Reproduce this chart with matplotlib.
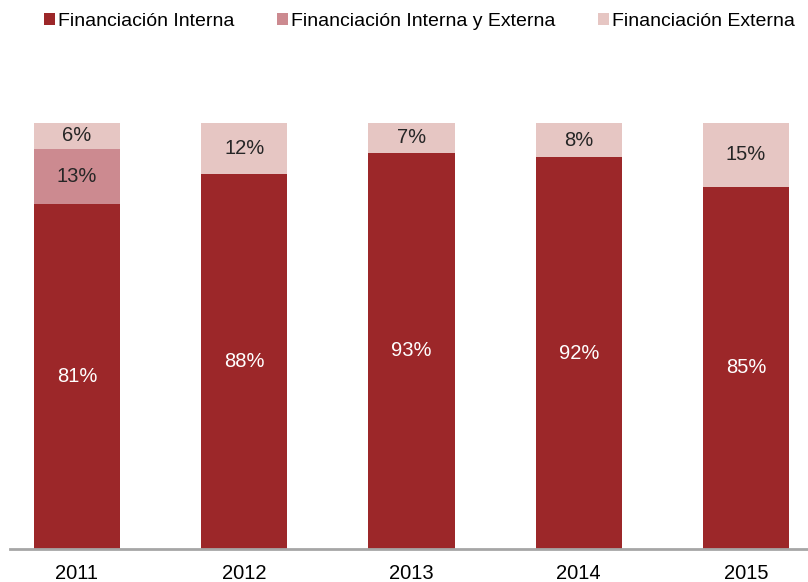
import numpy as np
import matplotlib.pyplot as plt
from matplotlib.patches import Patch

plt.rcParams['font.family'] = ['Liberation Sans', 'DejaVu Sans']

years = ['2011', '2012', '2013', '2014', '2015']
interna = [81, 88, 93, 92, 85]
mixta = [13, 0, 0, 0, 0]
externa = [6, 12, 7, 8, 15]
names = ['Financiación Interna', 'Financiación Interna y Externa', 'Financiación Externa']
colors = ['#9c2729', '#cc8a90', '#e6c6c3']
text_colors = ['white', '#262626', '#262626']

fig = plt.figure(figsize=(8.08, 5.82), dpi=100)
ax = fig.add_axes([10/808, 33/582, 798/808, 426/582])

x = np.arange(len(years))
w = 0.515
bottom = np.zeros(len(years))
for vals, col, tc in zip([interna, mixta, externa], colors, text_colors):
    vals = np.array(vals, dtype=float)
    ax.bar(x, vals, w, bottom=bottom, color=col, linewidth=0)
    for xi, b, v in zip(x, bottom, vals):
        if v > 0:
            ax.text(xi, b + v / 2, f'{int(v)}%', ha='center', va='center',
                    color=tc, fontsize=14.5)
    bottom += vals

ax.set_xlim(-0.40, 4.37)
ax.set_ylim(0, 100)
ax.set_xticks(x)
ax.set_xticklabels(years, fontsize=14.5)
ax.tick_params(axis='x', length=0, pad=11)
ax.set_yticks([])
for s in ['top', 'right', 'left']:
    ax.spines[s].set_visible(False)
ax.spines['bottom'].set_color('#a6a6a6')
ax.spines['bottom'].set_linewidth(2)

handles = [Patch(facecolor=c, edgecolor='none') for c in colors]
fig.legend(handles, names, loc='center left', bbox_to_anchor=(0.055, 0.963),
           ncol=3, frameon=False, fontsize=14, handlelength=0.55, handleheight=0.55,
           handletextpad=0.15, columnspacing=2.2, borderaxespad=0, borderpad=0)

fig.savefig('out.png', dpi=100)
